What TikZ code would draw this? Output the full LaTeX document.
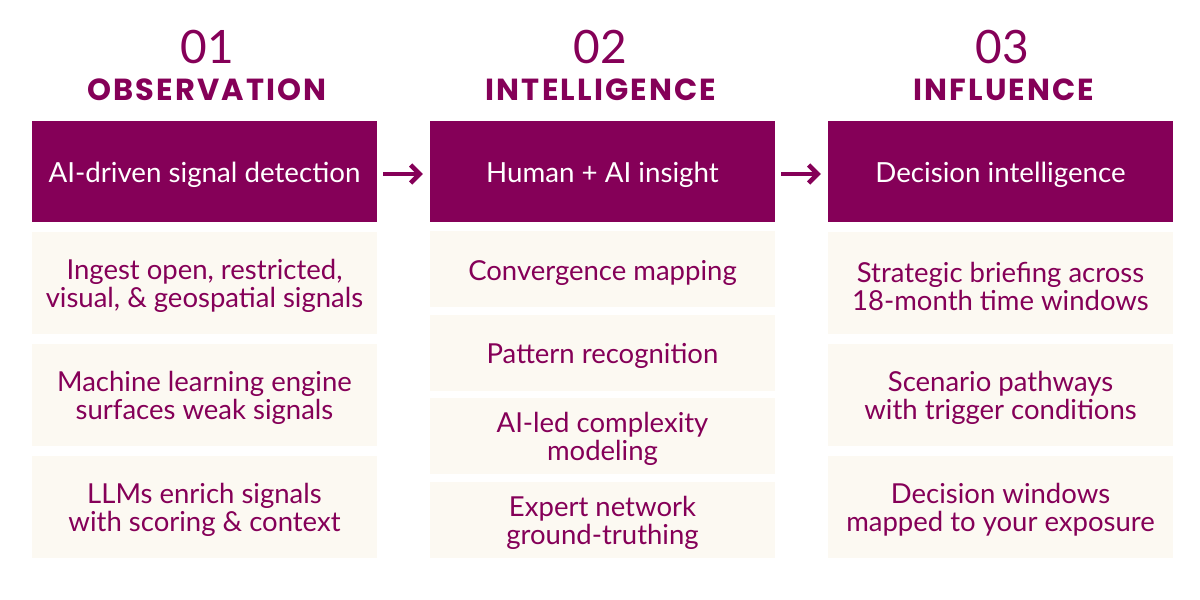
\documentclass[tikz,border=0pt]{standalone}
\usepackage{fontspec}
\setmainfont{Lato}
\newfontfamily\headfont[LetterSpace=7]{Poppins}
\usetikzlibrary{arrows.meta}
\definecolor{pur}{HTML}{850058}
\definecolor{cream}{HTML}{FCF9F2}
\begin{document}
\begin{tikzpicture}[x=1pt,y=-1pt,
  numtxt/.style={text=pur,font=\fontsize{46}{46}\selectfont,inner sep=0},
  ttl/.style={text=pur,font=\headfont\bfseries\fontsize{30.5}{30.5}\selectfont,inner sep=0},
  headbox/.style={fill=pur,minimum width=345pt,minimum height=101pt,inner sep=0},
  headtxt/.style={text=white,inner sep=0,font=\fontsize{27.7}{28}\selectfont},
  subbox/.style={fill=cream,minimum width=345pt,inner sep=0},
  subtxt/.style={text=pur,inner sep=0,align=center,font=\fontsize{27.5}{28}\selectfont},
  tall/.style={subbox,minimum height=102pt},
  short/.style={subbox,minimum height=76pt},
  flow/.style={pur,line width=4.5pt,-{Straight Barb[length=9pt,width=18pt]},shorten <=6pt,shorten >=7pt}]
\useasboundingbox (0,0) rectangle (1200,600);
% numbers and titles
\node[numtxt] (n1) at (207,47) {01};
\node[numtxt] (n2) at (600,47) {02};
\node[numtxt] (n3) at (1002,47) {03};
\node[ttl] (t1) at (207,89.5) {OBSERVATION};
\node[ttl] (t2) at (601,89.5) {INTELLIGENCE};
\node[ttl] (t3) at (1004,89.5) {INFLUENCE};
% header boxes
\node[headbox] (h1) at (204.5,171.5) {};
\node[headbox] (h2) at (602.5,171.5) {};
\node[headbox] (h3) at (1000.5,171.5) {};
\node[headtxt] (h1t) at ([yshift=-3pt]h1.center) {AI-driven signal detection};
\node[headtxt] (h2t) at ([yshift=-3pt]h2.center) {Human + AI insight};
\node[headtxt] (h3t) at ([yshift=-3pt]h3.center) {Decision intelligence};
% column 1
\node[tall] (a1) at (204.5,283) {};
\node[tall] (a2) at (204.5,395) {};
\node[tall] (a3) at (204.5,506.5) {};
\node[subtxt] (a1t) at ([yshift=-3pt]a1.center) {Ingest open, restricted,\\visual, \& geospatial signals};
\node[subtxt] (a2t) at ([yshift=-3pt]a2.center) {Machine learning engine\\surfaces weak signals};
\node[subtxt] (a3t) at ([yshift=-3pt]a3.center) {LLMs enrich signals\\with scoring \& context};
% column 2
\node[short] (b1) at (602.5,269) {};
\node[short] (b2) at (602.5,352.5) {};
\node[short] (b3) at (602.5,436) {};
\node[short] (b4) at (602.5,519.5) {};
\node[subtxt] (b1t) at ([yshift=-3.5pt]b1.center) {Convergence mapping};
\node[subtxt] (b2t) at ([yshift=-3.5pt]b2.center) {Pattern recognition};
\node[subtxt] (b3t) at ([yshift=-3pt]b3.center) {AI-led complexity\\modeling};
\node[subtxt] (b4t) at ([yshift=-3pt]b4.center) {Expert network\\ground-truthing};
% column 3
\node[tall] (c1) at (1000.5,283) {};
\node[tall] (c2) at (1000.5,395) {};
\node[tall] (c3) at (1000.5,506.5) {};
\node[subtxt] (c1t) at ([yshift=-3pt]c1.center) {Strategic briefing across\\18-month time windows};
\node[subtxt] (c2t) at ([yshift=-3pt]c2.center) {Scenario pathways\\with trigger conditions};
\node[subtxt] (c3t) at ([yshift=-3pt]c3.center) {Decision windows\\mapped to your exposure};
% arrows
\draw[flow] ([yshift=-2.5pt]h1.east) -- ([yshift=-2.5pt]h2.west);
\draw[flow] ([yshift=-2.5pt]h2.east) -- ([yshift=-2.5pt]h3.west);
\end{tikzpicture}
\end{document}
